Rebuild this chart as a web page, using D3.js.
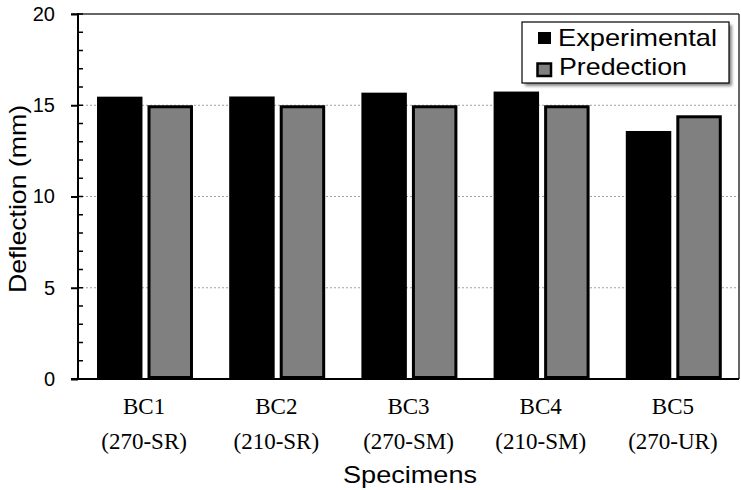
<!DOCTYPE html>
<html>
<head>
<meta charset="utf-8">
<script src="https://cdn.jsdelivr.net/npm/d3@7"></script>
<style>
  html, body { margin: 0; padding: 0; background: #fff; }
  svg { display: block; }
</style>
</head>
<body>
<svg id="chart" width="741" height="490"></svg>
<script>
const categories = ["BC1", "BC2", "BC3", "BC4", "BC5"];
const subLabels = ["(270-SR)", "(210-SR)", "(270-SM)", "(210-SM)", "(270-UR)"];
const seriesNames = ["Experimental", "Predection"];
const experimental = [15.47, 15.48, 15.69, 15.75, 13.59];
const prediction = [15.0, 15.0, 15.0, 15.0, 14.45];
const yTicks = [0, 5, 10, 15, 20];
const yMinorTicks = d3.range(0, 21, 1);

(function () {
const svg = d3.select("#chart");
const pLeft = 78, pRight = 739, pTop = 14, pBottom = 379;

const x = d3.scaleBand().domain(categories).range([pLeft, pRight]).padding(0);
const step = x.step();
const xs = d3.scaleBand().domain(seriesNames)
  .range([step * 0.1437, step * 0.8698]).paddingInner(0.1).paddingOuter(0);
const y = d3.scaleLinear().domain([0, 20]).range([pBottom, pTop]);

const defs = svg.append("defs");
const f = defs.append("filter").attr("id", "shadow").attr("x", "-10%").attr("y", "-10%").attr("width", "130%").attr("height", "140%");
f.append("feGaussianBlur").attr("stdDeviation", 1.5);

// gridlines
svg.append("g").selectAll("line").data([5, 10, 15]).join("line")
  .attr("x1", pLeft).attr("x2", pRight)
  .attr("y1", d => y(d)).attr("y2", d => y(d))
  .attr("stroke", "#a0a0a0").attr("stroke-width", 1).attr("stroke-dasharray", "2,2");

// bars
const groups = svg.append("g").selectAll("g").data(categories).join("g")
  .attr("transform", d => `translate(${x(d)},0)`);

groups.append("rect")
  .attr("x", xs("Experimental"))
  .attr("width", xs.bandwidth())
  .attr("y", (d, i) => y(experimental[i]))
  .attr("height", (d, i) => y(0) - y(experimental[i]))
  .attr("fill", "#000");

const sw = 3;
groups.append("rect")
  .attr("x", xs("Predection") + sw / 2)
  .attr("width", xs.bandwidth() - sw)
  .attr("y", (d, i) => y(prediction[i]) + sw / 2)
  .attr("height", (d, i) => y(0) - y(prediction[i]) - sw)
  .attr("fill", "#808080")
  .attr("stroke", "#000").attr("stroke-width", sw);

// frame: top and right
svg.append("line").attr("x1", 71).attr("x2", pRight).attr("y1", pTop).attr("y2", pTop)
  .attr("stroke", "#333").attr("stroke-width", 1.5);
svg.append("line").attr("x1", pRight).attr("x2", pRight).attr("y1", pTop).attr("y2", pBottom)
  .attr("stroke", "#333").attr("stroke-width", 1.5);

// y axis
const yAxis = d3.axisLeft(y).tickValues(yTicks).tickSize(7).tickPadding(16).tickFormat(d3.format("d"));
const gy = svg.append("g").attr("transform", `translate(${pLeft},0)`).call(yAxis);
gy.select(".domain").remove();
gy.selectAll(".tick line").attr("stroke", "#000").attr("stroke-width", 2);
gy.selectAll(".tick text").attr("font-family", "Liberation Sans, Arial, sans-serif")
  .attr("font-size", 20).attr("fill", "#000");

// minor ticks inside
svg.append("g").selectAll("line").data(yMinorTicks).join("line")
  .attr("x1", pLeft).attr("x2", pLeft + 5)
  .attr("y1", d => y(d)).attr("y2", d => y(d))
  .attr("stroke", "#000").attr("stroke-width", 1.5);

svg.append("line").attr("x1", pLeft).attr("x2", pLeft).attr("y1", pTop - 1).attr("y2", pBottom + 1)
  .attr("stroke", "#000").attr("stroke-width", 2);

// x axis
const xAxis = d3.axisBottom(x).tickSize(0).tickFormat(() => "");
const gx = svg.append("g").attr("transform", `translate(0,${pBottom})`).call(xAxis);
gx.select(".domain").remove();
svg.append("line").attr("x1", 71).attr("x2", pRight).attr("y1", pBottom).attr("y2", pBottom)
  .attr("stroke", "#000").attr("stroke-width", 2);

const lab = svg.append("g").selectAll("g").data(categories).join("g")
  .attr("transform", d => `translate(${x(d) + x.bandwidth() / 2},0)`);
lab.append("text").attr("y", 414).attr("text-anchor", "middle")
  .attr("font-family", "Liberation Serif, Times New Roman, serif").attr("font-size", 23)
  .text(d => d);
lab.append("text").attr("y", 449).attr("text-anchor", "middle")
  .attr("font-family", "Liberation Serif, Times New Roman, serif").attr("font-size", 23)
  .text((d, i) => subLabels[i]);

// axis titles
svg.append("text").attr("x", 410).attr("y", 483).attr("text-anchor", "middle")
  .attr("font-family", "Liberation Sans, Arial, sans-serif").attr("font-size", 24)
  .attr("textLength", 134).attr("lengthAdjust", "spacingAndGlyphs")
  .text("Specimens");
svg.append("text").attr("transform", "translate(26,199) rotate(-90)").attr("text-anchor", "middle")
  .attr("font-family", "Liberation Sans, Arial, sans-serif").attr("font-size", 24)
  .attr("textLength", 188).attr("lengthAdjust", "spacingAndGlyphs")
  .text("Deflection (mm)");

// legend
const lg = svg.append("g");
lg.append("rect").attr("x", 525).attr("y", 25).attr("width", 207).attr("height", 61)
  .attr("fill", "#888").attr("filter", "url(#shadow)");
lg.append("rect").attr("x", 522).attr("y", 22).attr("width", 207).attr("height", 61)
  .attr("fill", "#fff").attr("stroke", "#000").attr("stroke-width", 1.2);
lg.append("rect").attr("x", 538).attr("y", 32).attr("width", 13).attr("height", 12).attr("fill", "#000");
lg.append("rect").attr("x", 537.5).attr("y", 63.5).attr("width", 13.5).attr("height", 12.5)
  .attr("fill", "#808080").attr("stroke", "#000").attr("stroke-width", 2.5);
lg.append("text").attr("x", 558).attr("y", 46)
  .attr("font-family", "Liberation Sans, Arial, sans-serif").attr("font-size", 24)
  .attr("textLength", 159).attr("lengthAdjust", "spacingAndGlyphs").text(seriesNames[0]);
lg.append("text").attr("x", 559).attr("y", 75)
  .attr("font-family", "Liberation Sans, Arial, sans-serif").attr("font-size", 24)
  .attr("textLength", 128).attr("lengthAdjust", "spacingAndGlyphs").text(seriesNames[1]);
})();
</script>
</body>
</html>
